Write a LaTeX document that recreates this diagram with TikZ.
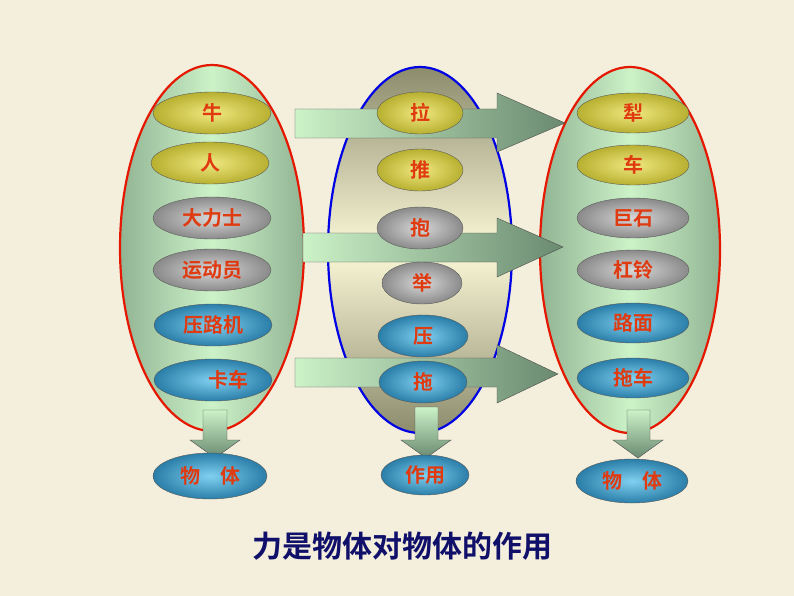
\documentclass[tikz,border=0pt]{standalone}
\usepackage{fontspec}
\newfontfamily\cjk{Noto Sans CJK SC Bold}
\usetikzlibrary{shapes.geometric}
\definecolor{bg}{HTML}{F3EFDC}
\definecolor{txt}{HTML}{E03A10}
\definecolor{ttl}{HTML}{10106A}
\definecolor{olive}{HTML}{B8B030}
\definecolor{oliveL}{HTML}{F0E880}
\definecolor{grayD}{HTML}{8A8A8A}
\definecolor{grayL}{HTML}{D8D8D8}
\definecolor{blueD}{HTML}{2A7EA8}
\definecolor{blueL}{HTML}{80D0F0}
\definecolor{grn}{HTML}{CCF2C8}
\definecolor{grnD}{HTML}{6A8A70}
\definecolor{cream}{HTML}{FBF8D8}
\definecolor{mgray}{HTML}{8C8C6C}
\tikzset{
 big/.style={ellipse,draw,line width=2.2pt,minimum width=184pt,minimum height=366pt},
 sm/.style={ellipse,draw=gray!70!black,line width=0.4pt,minimum width=#1,minimum height=42pt,font=\cjk\fontsize{20}{20}\selectfont,text=txt,inner sep=0pt},
 sm/.default=118pt,
 yel/.style={inner color=oliveL,outer color=olive},
 gry/.style={inner color=grayL,outer color=grayD},
 blu/.style={inner color=blueL,outer color=blueD},
 arr/.style={left color=grn,right color=grnD,draw=gray!60!black,line width=0.4pt},
 darr/.style={top color=grn,bottom color=grnD,draw=gray!60!black,line width=0.4pt},
 gbig/.style={left color=grnD!60!grn,right color=grnD!60!grn,middle color=grn},
}
\begin{document}
\begin{tikzpicture}[x=1pt,y=-1pt]
\fill[bg] (0,0) rectangle (794,596);
\useasboundingbox (0,0) rectangle (794,596);
% big ellipses
\node[big,draw=red!80!orange!90!black,gbig] (L) at (212,248) {};
\node[big,draw=blue!90!black,top color=mgray,bottom color=mgray,middle color=cream] (M) at (420,250) {};
\node[big,draw=red!80!orange!90!black,gbig,minimum width=180pt] (R) at (630,250) {};
% arrows
\path[arr] (295,109) -- (497,109) -- (497,93) -- (565,123) -- (497,152) -- (497,138) -- (295,138) -- cycle;
\path[arr] (303,233) -- (497,233) -- (497,218) -- (563,247) -- (497,277) -- (497,262) -- (303,262) -- cycle;
\path[arr] (295,358) -- (497,358) -- (497,345) -- (558,374) -- (497,403) -- (497,387) -- (295,387) -- cycle;
% left column
\node[sm,yel] (l1) at (212,113) {牛};
\node[sm,yel] (l2) at (210,163) {人};
\node[sm,gry] (l3) at (212,218) {大力士};
\node[sm,gry] (l4) at (212,270) {运动员};
\node[sm,blu] (l5) at (213,325) {压路机};
\node[sm,blu] (l6) at (213,380) {\hspace*{30pt}卡车};
% middle column
\node[sm=86pt,yel] (m1) at (420,113) {拉};
\node[sm=86pt,yel] (m2) at (420,170) {推};
\node[sm=86pt,gry] (m3) at (420,228) {抱};
\node[sm=80pt,gry] (m4) at (422,283) {举};
\node[sm=90pt,blu] (m5) at (423,336) {压};
\node[sm=88pt,blu] (m6) at (423,382) {拖};
% right column
\node[sm=112pt,yel,minimum height=40pt] (r1) at (633,113) {犁};
\node[sm=112pt,yel,minimum height=40pt] (r2) at (633,165) {车};
\node[sm=112pt,gry,minimum height=40pt] (r3) at (633,218) {巨石};
\node[sm=112pt,gry,minimum height=40pt] (r4) at (633,270) {杠铃};
\node[sm=112pt,blu,minimum height=40pt] (r5) at (633,323) {路面};
\node[sm=112pt,blu,minimum height=40pt] (r6) at (633,378) {拖车};
% down arrows
\path[darr] (203,410) -- (227,410) -- (227,440) -- (240,440) -- (215,458) -- (190,440) -- (203,440) -- cycle;
\path[darr] (415,407) -- (438,407) -- (438,440) -- (451,440) -- (426,458) -- (401,440) -- (415,440) -- cycle;
\path[darr] (627,410) -- (650,410) -- (650,440) -- (663,440) -- (638,458) -- (613,440) -- (627,440) -- cycle;
% bottom nodes
\node[sm=114pt,blu,minimum height=46pt] (lb) at (210,476) {物\hspace{1em}体};
\node[sm=88pt,blu,minimum height=40pt] (mb) at (425,475) {作用};
\node[sm=112pt,blu,minimum height=44pt] (rb) at (632,481) {物\hspace{1em}体};
\node[font=\cjk\fontsize{30}{30}\selectfont,text=ttl] (title) at (402,546) {力是物体对物体的作用};
\end{tikzpicture}
\end{document}
